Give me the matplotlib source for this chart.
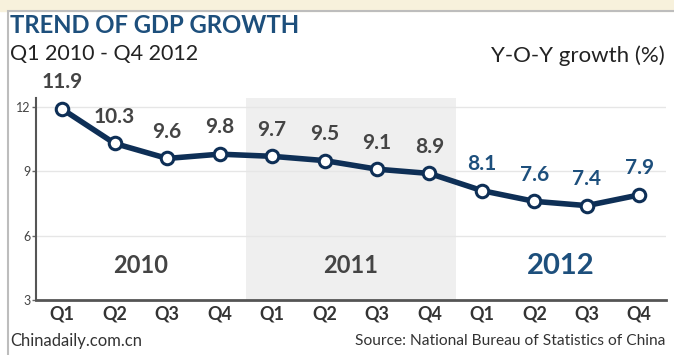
import matplotlib.pyplot as plt
from matplotlib.patches import Rectangle

quarters = ['Q1', 'Q2', 'Q3', 'Q4'] * 3
growth = [11.9, 10.3, 9.6, 9.8, 9.7, 9.5, 9.1, 8.9, 8.1, 7.6, 7.4, 7.9]
years = ['2010', '2011', '2012']
yticks = [3, 6, 9, 12]

navy = '#0e2f56'
blue = '#1d4f7c'
grey = '#444444'

plt.rcParams['font.family'] = ['Lato', 'DejaVu Sans']

fig = plt.figure(figsize=(6.74, 3.55), dpi=100)

# beige strip at the top and grey frame
fig.patches.append(Rectangle((0, 0.97), 1, 0.03, transform=fig.transFigure,
                             color='#f7f1dc', zorder=0))
fig.patches.append(Rectangle((0.012, -0.01), 1.0, 0.978, transform=fig.transFigure,
                             fill=False, edgecolor='#bdbdbd', lw=1.5, zorder=1))

ax = fig.add_axes([0.0534, 0.155, 0.934, 0.569])
x = list(range(len(growth)))

ax.axvspan(3.5, 7.5, color='#efefef', zorder=0, lw=0)
for t in yticks[1:]:
    ax.axhline(t, color='#e6e6e6', lw=1, zorder=1)

ax.plot(x, growth, color=navy, lw=4, marker='o', markersize=9,
        markerfacecolor='white', markeredgecolor=navy, markeredgewidth=2.2, zorder=3)

for i, v in enumerate(growth):
    c = blue if i >= 8 else grey
    ax.annotate(f'{v}', (i, v), xytext=(0, 12), textcoords='offset points',
                ha='center', va='bottom', fontsize=15, fontweight='bold', color=c)

for k, yr in enumerate(years):
    if k == 2:
        ax.text(4 * k + 1.5, 4.6, yr, ha='center', va='center', fontsize=21,
                fontweight='bold', color=blue)
    else:
        ax.text(4 * k + 1.5, 4.6, yr, ha='center', va='center', fontsize=17,
                fontweight='bold', color=grey)

ax.set_xlim(-0.5, 11.5)
ax.set_ylim(3, 12.42)
ax.set_xticks(x)
ax.set_xticklabels(quarters, fontsize=13, color='#333333', fontweight='bold')
ax.set_yticks(yticks)
ax.set_yticklabels([str(t) for t in yticks], fontsize=9, color=grey)
ax.tick_params(axis='x', length=0, pad=4)
ax.tick_params(axis='y', length=3, width=1, color='#666666', pad=1)

for s in ['top', 'right']:
    ax.spines[s].set_visible(False)
ax.spines['left'].set_color('#555555')
ax.spines['left'].set_linewidth(1.5)
ax.spines['bottom'].set_color('#555555')
ax.spines['bottom'].set_linewidth(2)
ax.set_facecolor('white')

fig.text(0.015, 0.928, 'TREND OF GDP GROWTH', fontsize=17.2, fontweight='bold',
         color=blue, va='center')
fig.text(0.015, 0.848, 'Q1 2010 - Q4 2012', fontsize=15.5, color='#222222', va='center')
fig.text(0.987, 0.842, 'Y-O-Y growth (%)', fontsize=16, color='#222222',
         va='center', ha='right')
fig.text(0.015, 0.04, 'Chinadaily.com.cn', fontsize=12, color='#333333', va='center')
fig.text(0.987, 0.04, 'Source: National Bureau of Statistics of China', fontsize=11.2,
         color='#333333', va='center', ha='right')

fig.savefig('out.png', dpi=100)
